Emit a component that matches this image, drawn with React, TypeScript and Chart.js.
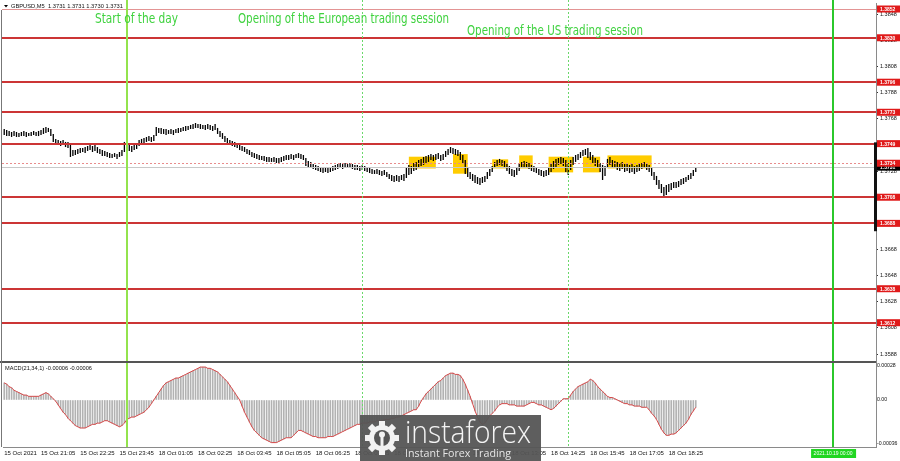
import { useEffect, useRef } from 'react';
import { Chart, registerables } from 'chart.js';

Chart.register(...registerables);

// ---------- DATA ----------
const SYMBOL_TITLE = 'GBPUSD,M5  1.3731 1.3731 1.3730 1.3731';
const MACD_TITLE = 'MACD(21,34,1) -0.00006 -0.00006';

// M5 bars from 15 Oct 19:50 to 18 Oct 19:20 (index 50 = 18 Oct 00:00)
const HIGH = [
  1.37602, 1.37594, 1.37587, 1.37579, 1.37587, 1.37579, 1.37571, 1.37579, 1.37587, 1.37579,
  1.37571, 1.37579, 1.37587, 1.37579, 1.37587, 1.37594, 1.3761, 1.37617, 1.3761, 1.37602,
  1.37564, 1.37526, 1.37518, 1.3751, 1.37518, 1.37503, 1.37503, 1.3748, 1.37441, 1.37441,
  1.37449, 1.37457, 1.37457, 1.37464, 1.37472, 1.3748, 1.37472, 1.3748, 1.37464, 1.37449,
  1.37441, 1.37434, 1.37426, 1.37418, 1.37411, 1.37418, 1.37411, 1.37426, 1.37441, 1.37503,
  1.37495, 1.3748, 1.37472, 1.3748, 1.37487, 1.37518, 1.37526, 1.37533, 1.37541, 1.37548,
  1.37541, 1.37556, 1.37617, 1.3761, 1.3761, 1.37602, 1.37602, 1.37594, 1.37602, 1.37594,
  1.37602, 1.3761, 1.3761, 1.37617, 1.37625, 1.37625, 1.37633, 1.3764, 1.37648, 1.3764,
  1.3764, 1.37633, 1.37633, 1.3764, 1.37633, 1.37625, 1.3764, 1.3761, 1.37587, 1.37571,
  1.37548, 1.37533, 1.37518, 1.3751, 1.37503, 1.37495, 1.37487, 1.37472, 1.37464, 1.37449,
  1.37441, 1.37426, 1.37418, 1.37411, 1.37403, 1.37395, 1.37395, 1.37388, 1.37388, 1.3738,
  1.37388, 1.3738, 1.3738, 1.37388, 1.37395, 1.37403, 1.37403, 1.37411, 1.37403, 1.37411,
  1.37418, 1.37411, 1.37403, 1.3738, 1.37357, 1.3735, 1.37334, 1.37327, 1.37319, 1.37311,
  1.37304, 1.37311, 1.37304, 1.37311, 1.37319, 1.37327, 1.37334, 1.37342, 1.37334, 1.37342,
  1.37334, 1.37342, 1.37334, 1.37327, 1.37327, 1.37319, 1.37327, 1.37319, 1.37311, 1.37304,
  1.37296, 1.37288, 1.37296, 1.37288, 1.37281, 1.37288, 1.37273, 1.37258, 1.3725, 1.37243,
  1.3725, 1.37243, 1.3725, 1.37258, 1.37304, 1.37327, 1.37319, 1.37342, 1.3735, 1.37365,
  1.37373, 1.37388, 1.37395, 1.37403, 1.37411, 1.37403, 1.37411, 1.37418, 1.37403, 1.37411,
  1.37434, 1.37449, 1.37464, 1.37457, 1.37449, 1.37441, 1.37426, 1.37403, 1.37365, 1.37304,
  1.37273, 1.37258, 1.3725, 1.37235, 1.37227, 1.37235, 1.37243, 1.37273, 1.37296, 1.37319,
  1.3735, 1.37365, 1.37373, 1.37365, 1.37357, 1.37342, 1.37319, 1.37296, 1.37288, 1.37304,
  1.37334, 1.3735, 1.37357, 1.3735, 1.37342, 1.37327, 1.37319, 1.37311, 1.37296, 1.37288,
  1.37281, 1.37288, 1.37311, 1.37334, 1.37357, 1.37373, 1.3738, 1.37388, 1.3738, 1.37365,
  1.37342, 1.37365, 1.37388, 1.37403, 1.37411, 1.37426, 1.37441, 1.37449, 1.37457, 1.37426,
  1.37403, 1.3738, 1.37365, 1.37342, 1.37327, 1.37319, 1.37373, 1.37388, 1.37365, 1.37357,
  1.3735, 1.37342, 1.3735, 1.37334, 1.37342, 1.37327, 1.37334, 1.37319, 1.37327, 1.37334,
  1.37342, 1.3735, 1.37342, 1.37327, 1.37304, 1.37273, 1.37243, 1.37212, 1.37181, 1.37158,
  1.37174, 1.37181, 1.37189, 1.37197, 1.37197, 1.37204, 1.3722, 1.37227, 1.37235, 1.3725,
  1.37265, 1.37288, 1.37311,
];

const LOW = [
  1.37556, 1.37548, 1.37548, 1.37541, 1.37548, 1.37541, 1.37541, 1.37548, 1.37548, 1.37541,
  1.37548, 1.37548, 1.37556, 1.37548, 1.37548, 1.37556, 1.37564, 1.37571, 1.37579, 1.37548,
  1.37503, 1.37487, 1.3748, 1.37472, 1.3748, 1.37464, 1.37457, 1.37388, 1.37395, 1.37403,
  1.37411, 1.37418, 1.37426, 1.37418, 1.37434, 1.37441, 1.37426, 1.37434, 1.37418, 1.37411,
  1.37395, 1.37395, 1.37388, 1.3738, 1.3738, 1.37388, 1.37373, 1.37388, 1.37395, 1.37426,
  1.37449, 1.37434, 1.37426, 1.37441, 1.37449, 1.37472, 1.37487, 1.37495, 1.37503, 1.3751,
  1.37503, 1.3751, 1.37548, 1.37571, 1.37564, 1.37564, 1.37556, 1.37564, 1.37564, 1.37556,
  1.37571, 1.37571, 1.37579, 1.37587, 1.37587, 1.37594, 1.37602, 1.37602, 1.3761, 1.3761,
  1.37602, 1.37602, 1.37594, 1.37602, 1.37594, 1.37587, 1.37594, 1.37564, 1.37541, 1.37526,
  1.37503, 1.37495, 1.3748, 1.37472, 1.37464, 1.37457, 1.37441, 1.37434, 1.37426, 1.37411,
  1.37403, 1.37388, 1.3738, 1.37373, 1.37365, 1.37365, 1.37357, 1.3735, 1.3735, 1.3735,
  1.3735, 1.37342, 1.37342, 1.3735, 1.37357, 1.37365, 1.37365, 1.37373, 1.37365, 1.3738,
  1.3738, 1.37373, 1.37365, 1.37319, 1.37311, 1.37304, 1.37296, 1.37288, 1.37281, 1.37273,
  1.37265, 1.37273, 1.37265, 1.37273, 1.37281, 1.37288, 1.37296, 1.37304, 1.37296, 1.37304,
  1.37304, 1.37304, 1.37296, 1.37288, 1.37288, 1.37281, 1.37288, 1.37281, 1.37273, 1.37265,
  1.37258, 1.37258, 1.37258, 1.3725, 1.37243, 1.3725, 1.37235, 1.3722, 1.37204, 1.37197,
  1.37204, 1.37197, 1.37212, 1.37204, 1.37227, 1.3725, 1.37258, 1.37281, 1.37288, 1.37304,
  1.37319, 1.37327, 1.37342, 1.3735, 1.37365, 1.37357, 1.37365, 1.37373, 1.37357, 1.37365,
  1.37388, 1.37403, 1.37418, 1.37411, 1.37403, 1.37395, 1.37365, 1.37342, 1.37258, 1.37235,
  1.3722, 1.37204, 1.37189, 1.37181, 1.37174, 1.37189, 1.37197, 1.3722, 1.37243, 1.37273,
  1.37304, 1.37319, 1.37327, 1.37319, 1.37311, 1.37281, 1.37258, 1.37243, 1.37235, 1.3725,
  1.37281, 1.37304, 1.37311, 1.37304, 1.37296, 1.37281, 1.37273, 1.37265, 1.3725, 1.37243,
  1.37235, 1.37243, 1.3725, 1.37273, 1.37296, 1.37311, 1.37327, 1.37334, 1.37319, 1.37273,
  1.3725, 1.37288, 1.37327, 1.3735, 1.37365, 1.3738, 1.37395, 1.37403, 1.3738, 1.37365,
  1.37342, 1.37319, 1.37304, 1.37273, 1.37212, 1.37243, 1.37304, 1.37327, 1.37311, 1.37304,
  1.37288, 1.37281, 1.37296, 1.37273, 1.37281, 1.37265, 1.37273, 1.37258, 1.37273, 1.37281,
  1.37296, 1.37304, 1.37288, 1.37273, 1.37243, 1.37212, 1.37174, 1.37143, 1.37112, 1.37082,
  1.37097, 1.3712, 1.37135, 1.37151, 1.37151, 1.37158, 1.37174, 1.37181, 1.37197, 1.37212,
  1.3722, 1.37243, 1.37273,
];

// MACD(21,34,1) main values per bar (signal = SMA(1) of main, i.e. the same values)
const MACD = [
  14e-5, 13e-5, 11e-5, 10e-5, 8e-5, 7e-5, 6e-5, 5e-5, 4e-5, 4e-5,
  3e-5, 3e-5, 3e-5, 3e-5, 3e-5, 4e-5, 5e-5, 6e-5, 5e-5, 3e-5,
  1e-5, -1e-5, -4e-5, -7e-5, -10e-5, -12e-5, -15e-5, -17e-5, -19e-5, -21e-5,
  -22e-5, -23e-5, -23e-5, -23e-5, -22e-5, -21e-5, -20e-5, -20e-5, -19e-5, -19e-5,
  -18e-5, -17e-5, -17e-5, -18e-5, -19e-5, -20e-5, -21e-5, -22e-5, -21e-5, -19e-5,
  -16e-5, -15e-5, -14e-5, -14e-5, -13e-5, -12e-5, -11e-5, -10e-5, -8e-5, -6e-5,
  -3e-5, 0, 3e-5, 6e-5, 9e-5, 12e-5, 14e-5, 15e-5, 16e-5, 17e-5,
  18e-5, 18e-5, 19e-5, 20e-5, 21e-5, 22e-5, 23e-5, 24e-5, 25e-5, 26e-5,
  27e-5, 27e-5, 27e-5, 26e-5, 26e-5, 25e-5, 24e-5, 23e-5, 21e-5, 19e-5,
  17e-5, 15e-5, 12e-5, 9e-5, 6e-5, 3e-5, 0, -5e-5, -10e-5, -14e-5,
  -18e-5, -22e-5, -25e-5, -27e-5, -29e-5, -31e-5, -32e-5, -33e-5, -34e-5, -35e-5,
  -35e-5, -35e-5, -34e-5, -33e-5, -32e-5, -31e-5, -31e-5, -31e-5, -29e-5, -27e-5,
  -25e-5, -25e-5, -26e-5, -27e-5, -28e-5, -29e-5, -30e-5, -30e-5, -31e-5, -31e-5,
  -31e-5, -31e-5, -30e-5, -30e-5, -30e-5, -29e-5, -28e-5, -27e-5, -26e-5, -25e-5,
  -24e-5, -23e-5, -22e-5, -21e-5, -20e-5, -20e-5, -19e-5, -19e-5, -19e-5, -18e-5,
  -18e-5, -18e-5, -17e-5, -17e-5, -17e-5, -16e-5, -16e-5, -16e-5, -15e-5, -15e-5,
  -14e-5, -14e-5, -13e-5, -12e-5, -11e-5, -10e-5, -9e-5, -8e-5, -8e-5, -5e-5,
  -1e-5, 2e-5, 5e-5, 7e-5, 9e-5, 11e-5, 13e-5, 15e-5, 16e-5, 18e-5,
  20e-5, 21e-5, 22e-5, 22e-5, 21e-5, 21e-5, 20e-5, 17e-5, 13e-5, 8e-5,
  3e-5, -3e-5, -9e-5, -14e-5, -18e-5, -20e-5, -19e-5, -16e-5, -13e-5, -11e-5,
  -9e-5, -6e-5, -4e-5, -3e-5, -3e-5, -3e-5, -4e-5, -4e-5, -4e-5, -5e-5,
  -5e-5, -5e-5, -5e-5, -4e-5, -3e-5, -2e-5, -2e-5, -3e-5, -4e-5, -4e-5,
  -5e-5, -6e-5, -7e-5, -8e-5, -7e-5, -5e-5, -3e-5, -1e-5, 1e-5, 1e-5,
  1e-5, 4e-5, 7e-5, 9e-5, 11e-5, 12e-5, 13e-5, 14e-5, 15e-5, 17e-5,
  16e-5, 14e-5, 11e-5, 9e-5, 7e-5, 5e-5, 3e-5, 2e-5, 2e-5, 1e-5,
  0, -1e-5, -2e-5, -3e-5, -3e-5, -4e-5, -4e-5, -5e-5, -5e-5, -5e-5,
  -6e-5, -6e-5, -6e-5, -8e-5, -11e-5, -13e-5, -16e-5, -20e-5, -24e-5, -27e-5,
  -29e-5, -29e-5, -28e-5, -28e-5, -27e-5, -25e-5, -23e-5, -21e-5, -19e-5, -16e-5,
  -12e-5, -9e-5, -6e-5,
];

const TOTAL_SLOTS = 356; // bar slots visible on screen (incl. empty future)

const TICK_INDEX = [0, 15, 31, 47, 63, 79, 95, 111, 127, 143, 159, 175, 191, 207, 223, 239, 255, 271];
const TICK_LABELS = [
  '15 Oct 2021', '15 Oct 21:05', '15 Oct 22:25', '15 Oct 23:45', '18 Oct 01:05', '18 Oct 02:25',
  '18 Oct 03:45', '18 Oct 05:05', '18 Oct 06:25', '18 Oct 07:45', '18 Oct 09:05', '18 Oct 10:25',
  '18 Oct 11:45', '18 Oct 13:05', '18 Oct 14:25', '18 Oct 15:45', '18 Oct 17:05', '18 Oct 18:25',
];

const PRICE_MIN = 1.35827;
const PRICE_MAX = 1.38566;
const PRICE_TICKS = [1.3588, 1.3608, 1.3628, 1.3648, 1.3668, 1.3688, 1.3708, 1.3728, 1.3748, 1.3768, 1.3788, 1.3808, 1.3828, 1.3848];
const MACD_MIN = -0.000386;
const MACD_MAX = 0.00032;
const MACD_TICKS = [0.00028, 0, -0.00036];

const LEVELS = [1.3852, 1.383, 1.3796, 1.3773, 1.3749, 1.3708, 1.3688, 1.3638, 1.3612];
const DOTTED_LEVEL = 1.3734;
const BID = 1.3731;

// [start bar, end bar, top price, bottom price]
const BOXES = [
  [165, 176, 1.3739, 1.373],
  [183, 189, 1.3741, 1.3726],
  [199, 205.5, 1.3737, 1.373],
  [210, 215.5, 1.374, 1.373],
  [222, 232, 1.3739, 1.3727],
  [236, 243, 1.3739, 1.3727],
  [246, 264, 1.374, 1.373],
];

const DAY_START = 50; // 18 Oct 00:00
const EU_OPEN = 146; // 18 Oct 08:00
const US_OPEN = 230; // 18 Oct 15:00
const NEXT_DAY = 338; // 19 Oct 00:00
const NEXT_DAY_LABEL = '2021.10.19 00:00';

const NOTES = [
  { text: 'Start of the day', left: 95, base: 22.5, width: 83 },
  { text: 'Opening of the European trading session', left: 238, base: 22.5, width: 211 },
  { text: 'Opening of the US trading session', left: 467, base: 34.5, width: 176 },
];

// ---------- DRAW HELPERS ----------
const fmt4 = (v: number) => v.toFixed(4);

function fitText(ctx: CanvasRenderingContext2D, text: string, x: number, y: number, w: number, font: string, color: string, baseline: CanvasTextBaseline = 'alphabetic') {
  ctx.save();
  ctx.font = font;
  ctx.fillStyle = color;
  ctx.textAlign = 'left';
  ctx.textBaseline = baseline;
  const mw = ctx.measureText(text).width || 1;
  ctx.translate(x, y);
  ctx.scale(w / mw, 1);
  ctx.fillText(text, 0, 0);
  ctx.restore();
}

const mt4Plugin = {
  id: 'mt4',
  beforeDatasetsDraw(chart: any) {
    const { ctx, scales } = chart;
    const x = scales.x, y = scales.y;
    ctx.save();
    ctx.fillStyle = '#FFCC00';
    for (const b of BOXES) {
      const x0 = x.getPixelForValue(b[0]);
      const x1 = x.getPixelForValue(b[1]);
      const y0 = y.getPixelForValue(b[2]);
      const y1 = y.getPixelForValue(b[3]);
      ctx.fillRect(x0, y0, x1 - x0, y1 - y0);
    }
    ctx.restore();
  },
  afterDatasetsDraw(chart: any) {
    const { ctx, chartArea: ca, scales } = chart;
    const x = scales.x, y = scales.y;
    ctx.save();
    const hline = (v: number, color: string, w: number, dash: number[]) => {
      const py = Math.round(y.getPixelForValue(v)) + (w % 2 ? 0.5 : 0);
      ctx.beginPath();
      ctx.setLineDash(dash);
      ctx.strokeStyle = color;
      ctx.lineWidth = w;
      ctx.moveTo(ca.left - 1, py);
      ctx.lineTo(ca.right, py);
      ctx.stroke();
    };
    hline(BID, '#c8c8c8', 1, []);
    hline(DOTTED_LEVEL, '#e88c8c', 1, [2, 2]);
    for (const lv of LEVELS) {
      if (lv === 1.3852) hline(lv, '#e39494', 1, []);
      else hline(lv, '#cc3535', 2, []);
    }
    const vline = (i: number, color: string, w: number, dash: number[]) => {
      const px = Math.round(x.getPixelForValue(i)) + (w % 2 ? 0.5 : 0);
      ctx.beginPath();
      ctx.setLineDash(dash);
      ctx.strokeStyle = color;
      ctx.lineWidth = w;
      ctx.moveTo(px, 0);
      ctx.lineTo(px, ca.bottom);
      ctx.stroke();
    };
    vline(EU_OPEN, '#6ad86a', 1, [2, 2]);
    vline(US_OPEN, '#6ad86a', 1, [2, 2]);
    vline(DAY_START, '#93e34e', 2, []);
    vline(NEXT_DAY, '#2bc82b', 2, []);
    ctx.setLineDash([]);
    // panel separator
    ctx.fillStyle = '#555';
    ctx.fillRect(0, Math.round(y.bottom), ca.right, 2);
    // left frame
    ctx.fillStyle = '#777';
    ctx.fillRect(1, 10, 1, ca.bottom - 10);
    // annotations
    for (const n of NOTES) {
      fitText(ctx, n.text, n.left, n.base, n.width, '14px "Liberation Sans Narrow", "DejaVu Sans Condensed", "Roboto", sans-serif', '#3fd23f');
    }
    ctx.restore();
  },
  afterDraw(chart: any) {
    const { ctx, chartArea: ca, scales } = chart;
    const x = scales.x, y = scales.y;
    ctx.save();
    // right-edge dark marker
    ctx.fillStyle = '#111';
    const my0 = y.getPixelForValue(1.375), my1 = y.getPixelForValue(1.3682);
    ctx.fillRect(ca.right - 2, my0, 3, my1 - my0);
    // price tags
    const tag = (v: number, bg: string) => {
      const py = y.getPixelForValue(v);
      ctx.fillStyle = bg;
      ctx.fillRect(ca.right + 1, py - 3.5, 23, 7);
      ctx.fillStyle = '#fff';
      ctx.font = 'bold 5px "Liberation Sans", sans-serif';
      ctx.textBaseline = 'middle';
      ctx.textAlign = 'left';
      ctx.fillText(fmt4(v), ca.right + 4, py + 0.5);
    };
    tag(BID, '#000');
    for (const lv of LEVELS) tag(lv, '#e01a1a');
    tag(DOTTED_LEVEL, '#e01a1a');
    // date tag at next-day line
    const nx = x.getPixelForValue(NEXT_DAY);
    ctx.fillStyle = '#22d622';
    ctx.fillRect(nx - 22, ca.bottom + 2, 45, 9);
    ctx.fillStyle = '#fff';
    ctx.font = '5px "Liberation Sans", sans-serif';
    ctx.textBaseline = 'middle';
    ctx.textAlign = 'center';
    ctx.fillText(NEXT_DAY_LABEL, nx, ca.bottom + 6.8);
    // titles
    ctx.fillStyle = '#000';
    ctx.beginPath();
    ctx.moveTo(4, 5); ctx.lineTo(8, 5); ctx.lineTo(6, 7.5); ctx.closePath(); ctx.fill();
    fitText(ctx, SYMBOL_TITLE, 11, 6.5, 112, '5.5px "Liberation Sans", sans-serif', '#111', 'middle');
    fitText(ctx, MACD_TITLE, 5, y.bottom + 7, 87, '5.5px "Liberation Sans", sans-serif', '#111', 'middle');
    // instaforex logo
    const lx = 360, ly = 415, lw = 181, lh = 46;
    ctx.fillStyle = 'rgba(85,85,85,0.95)';
    ctx.fillRect(lx, ly, lw, lh);
    const cx = 382, cy = 438;
    ctx.fillStyle = '#f2f2f2';
    for (let k = 0; k < 8; k++) {
      ctx.save();
      ctx.translate(cx, cy);
      ctx.rotate((k * Math.PI) / 4);
      ctx.fillRect(-3, -17, 6, 7);
      ctx.restore();
    }
    ctx.beginPath(); ctx.arc(cx, cy, 13, 0, Math.PI * 2); ctx.fill();
    ctx.fillStyle = '#555';
    ctx.beginPath(); ctx.arc(cx, cy, 8, 0, Math.PI * 2); ctx.fill();
    ctx.fillStyle = '#f2f2f2';
    ctx.beginPath(); ctx.arc(cx, cy - 3.5, 3, 0, Math.PI * 2); ctx.fill();
    ctx.fillRect(cx - 1.5, cy - 1, 3, 10);
    fitText(ctx, 'instaforex', 405, 443, 126, '300 32px "Open Sans", "Lato", sans-serif', '#f4f4f4');
    fitText(ctx, 'Instant Forex Trading', 405, 457, 106, '11px "Open Sans", "Lato", sans-serif', '#e6e6e6');
    ctx.restore();
  },
};

export default function App() {
  const ref = useRef<HTMLCanvasElement>(null);
  useEffect(() => {
    const canvas = ref.current;
    if (!canvas) return;
    Chart.defaults.font.family = '"Liberation Sans", Arial, sans-serif';
    const candles = HIGH.map((h, i) => ({ x: i, y: [LOW[i], h] }));
    const macd = MACD.map((v, i) => ({ x: i, y: v }));
    const chart = new Chart(canvas, {
      type: 'bar',
      data: {
        datasets: [
          {
            type: 'line',
            label: 'Signal',
            data: macd,
            yAxisID: 'm',
            borderColor: '#d84848',
            borderWidth: 1,
            pointRadius: 0,
            order: 0,
          } as any,
          {
            type: 'bar',
            label: 'GBPUSD',
            data: candles,
            yAxisID: 'y',
            backgroundColor: '#000',
            barThickness: 1.3,
            inflateAmount: 0,
            grouped: false,
            order: 1,
          } as any,
          {
            type: 'bar',
            label: 'MACD',
            data: macd,
            yAxisID: 'm',
            backgroundColor: '#b2b2b2',
            barThickness: 1,
            grouped: false,
            order: 2,
          } as any,
        ],
      },
      options: {
        responsive: false,
        animation: false,
        events: [],
        devicePixelRatio: 1,
        layout: { padding: { left: 3, top: 3, right: 0, bottom: 0 } },
        plugins: { legend: { display: false }, tooltip: { enabled: false } },
        scales: {
          x: {
            type: 'linear',
            min: -0.5,
            max: TOTAL_SLOTS - 0.5,
            offset: false,
            grid: { display: false },
            border: { display: true, color: '#8a8a8a' },
            afterBuildTicks: (s: any) => { s.ticks = TICK_INDEX.map((v) => ({ value: v })); },
            afterFit: (s: any) => { s.height = 14; s.paddingLeft = 0; s.paddingRight = 0; },
            ticks: {
              autoSkip: false,
              maxRotation: 0,
              minRotation: 0,
              align: 'start',
              padding: -5,
              color: '#111',
              font: { size: 6 },
              callback: (v: any) => TICK_LABELS[TICK_INDEX.indexOf(Number(v))] ?? '',
            },
          } as any,
          y: {
            type: 'linear',
            position: 'right',
            stack: 'panes',
            stackWeight: 358,
            min: PRICE_MIN,
            max: PRICE_MAX,
            grid: { display: true, drawOnChartArea: false, drawTicks: true, tickLength: 2, color: '#333' },
            border: { display: true, color: '#8a8a8a' },
            afterBuildTicks: (s: any) => { s.ticks = PRICE_TICKS.map((v) => ({ value: v })); },
            afterFit: (s: any) => { s.width = 24; s.paddingTop = 0; s.paddingBottom = 0; },
            ticks: { autoSkip: false, padding: 2, color: '#111', font: { size: 5.5 }, callback: (v: any) => fmt4(Number(v)) },
          } as any,
          m: {
            type: 'linear',
            position: 'right',
            stack: 'panes',
            stackWeight: 86,
            min: MACD_MIN,
            max: MACD_MAX,
            grid: { display: true, drawOnChartArea: false, drawTicks: true, tickLength: 1, color: '#333' },
            border: { display: true, color: '#8a8a8a' },
            afterBuildTicks: (s: any) => { s.ticks = MACD_TICKS.map((v) => ({ value: v })); },
            afterFit: (s: any) => { s.width = 24; s.paddingTop = 0; s.paddingBottom = 0; },
            ticks: {
              autoSkip: false,
              padding: 0,
              color: '#111',
              font: { size: 5.2 },
              callback: (v: any) => (Number(v) === 0 ? '0.00' : Number(v).toFixed(5)),
            },
          } as any,
        },
      } as any,
      plugins: [mt4Plugin],
    });
    return () => chart.destroy();
  }, []);
  return (
    <div style={{ position: 'fixed', left: 0, top: 0, width: 900, height: 461, background: '#fff' }}>
      <canvas ref={ref} width={900} height={461} style={{ display: 'block', width: 900, height: 461 }} />
    </div>
  );
}
